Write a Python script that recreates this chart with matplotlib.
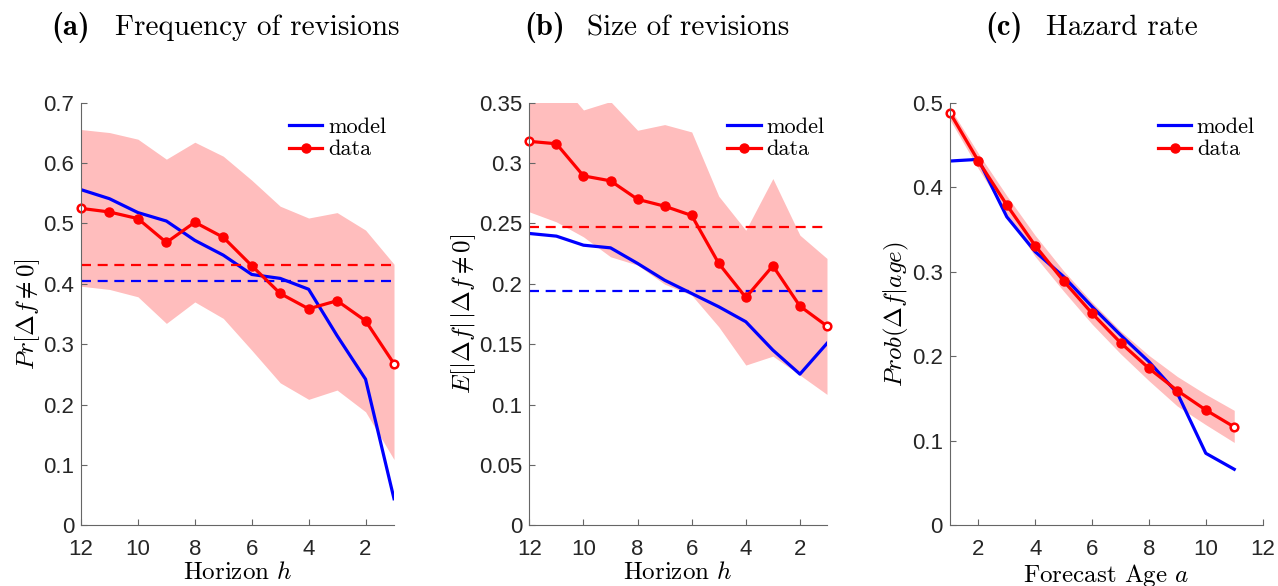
import matplotlib
matplotlib.use("Agg")
import matplotlib.pyplot as plt
from matplotlib.ticker import FuncFormatter

plt.rcParams["font.family"] = ["cmr10"]
plt.rcParams["mathtext.fontset"] = "cm"
plt.rcParams["axes.unicode_minus"] = False

# horizon axis for panels (a) and (b): 12 ... 1
horizon = [12, 11, 10, 9, 8, 7, 6, 5, 4, 3, 2, 1]

# (a) frequency of revisions
freq_model = [0.556, 0.541, 0.518, 0.504, 0.472, 0.4475, 0.4155, 0.409, 0.391, 0.314, 0.242, 0.044]
freq_data = [0.525, 0.519, 0.508, 0.4685, 0.502, 0.477, 0.430, 0.384, 0.3586, 0.372, 0.3387, 0.2676]
freq_hi = [0.6556, 0.6506, 0.6396, 0.6065, 0.6346, 0.6114, 0.5717, 0.5286, 0.509, 0.518, 0.489, 0.4326]
freq_lo = [0.396, 0.3907, 0.3785, 0.3344, 0.370, 0.3427, 0.290, 0.236, 0.2086, 0.224, 0.188, 0.109]
freq_mean_model = 0.405
freq_mean_data = 0.4305

# (b) size of revisions
size_model = [0.2417, 0.2395, 0.232, 0.2298, 0.2169, 0.203, 0.192, 0.181, 0.1686, 0.1451, 0.1252, 0.1507]
size_data = [0.318, 0.316, 0.2894, 0.2853, 0.270, 0.2643, 0.2566, 0.2169, 0.1887, 0.2149, 0.1815, 0.165]
size_hi = [0.362, 0.370, 0.344, 0.351, 0.3272, 0.3319, 0.3258, 0.2726, 0.2444, 0.2872, 0.2403, 0.221]
size_lo = [0.2596, 0.2513, 0.2389, 0.2224, 0.2155, 0.1997, 0.1906, 0.1644, 0.1327, 0.1401, 0.1244, 0.1084]
size_mean_model = 0.1942
size_mean_data = 0.2472

# (c) hazard rate by forecast age
age = [1, 2, 3, 4, 5, 6, 7, 8, 9, 10, 11]
haz_model = [0.431, 0.433, 0.365, 0.3237, 0.2942, 0.2587, 0.2252, 0.1936, 0.1562, 0.0852, 0.0663]
haz_data = [0.4882, 0.431, 0.379, 0.3308, 0.289, 0.2508, 0.2161, 0.1857, 0.1593, 0.1364, 0.1163]
haz_hi = [0.494, 0.440, 0.390, 0.343, 0.301, 0.264, 0.230, 0.201, 0.176, 0.155, 0.136]
haz_lo = [0.480, 0.422, 0.368, 0.318, 0.277, 0.238, 0.203, 0.171, 0.141, 0.119, 0.098]

RED = "#ff0000"
BLUE = "#0000ff"
TICKFONT = "Liberation Sans"
TSIZE = 21
LSIZE = 18


def panel(ax, x, model, data, hi, lo, means=None):
    ax.plot(x, model, color=BLUE, lw=2.3, label="model")
    if means:
        ax.plot([x[0], x[-1]], [means[0]] * 2, color=BLUE, lw=1.6, dashes=(4.5, 3))
    ax.fill_between(x, lo, hi, color=RED, alpha=0.26, lw=0)
    if means:
        ax.plot([x[0], x[-1]], [means[1]] * 2, color=RED, lw=1.6, dashes=(4.5, 3))
    n = len(x)
    ax.plot(x, data, color=RED, lw=2.3, marker="o", ms=6.5,
            markevery=list(range(1, n - 1)), label="data")
    ax.plot([x[0], x[-1]], [data[0], data[-1]], ls="none", marker="o", ms=5.5,
            mfc="white", mec=RED, mew=1.8, clip_on=False)
    for s in ("top", "right"):
        ax.spines[s].set_visible(False)
    for s in ("left", "bottom"):
        ax.spines[s].set_color("#666666")
        ax.spines[s].set_linewidth(0.8)
    ax.tick_params(direction="in", length=4, width=0.8, color="#666666",
                   labelsize=16, labelcolor="#262626", labelfontfamily=TICKFONT)
    ax.tick_params(axis="x", pad=10)
    ax.tick_params(axis="y", pad=5)
    ax.yaxis.set_major_formatter(FuncFormatter(lambda v, p: f"{v:g}"))
    ax.legend(loc="upper left", bbox_to_anchor=(0.665, 0.965), frameon=False,
              fontsize=16, handlelength=1.5, handletextpad=0.25,
              labelspacing=0.12, borderaxespad=0, borderpad=0)


def title(ax, tag, text, x_tag, x_text):
    # bold panel tag + regular caption, like "\textbf{(a)}~~Frequency ..."
    ax.text(x_tag, 1.16, tag, transform=ax.transAxes, ha="right", va="baseline",
            fontsize=TSIZE + 1, family="cmb10")
    ax.text(x_text, 1.16, text, transform=ax.transAxes, ha="left", va="baseline",
            fontsize=TSIZE)


fig = plt.figure(figsize=(12.78, 5.86), dpi=100)
bottom, height = 0.1036, 0.7211
ax1 = fig.add_axes([0.0634, bottom, 0.2449, height])
ax2 = fig.add_axes([0.4142, bottom, 0.2329, height])
ax3 = fig.add_axes([0.7433, bottom, 0.2447, height])

panel(ax1, horizon, freq_model, freq_data, freq_hi, freq_lo, (freq_mean_model, freq_mean_data))
ax1.set_xlim(12, 1)
ax1.set_ylim(0, 0.7)
ax1.set_xticks([12, 10, 8, 6, 4, 2])
ax1.set_yticks([0, 0.1, 0.2, 0.3, 0.4, 0.5, 0.6, 0.7])
ax1.set_xlabel(r"Horizon $h$", fontsize=LSIZE, labelpad=1)
ax1.set_ylabel(r"$Pr[\Delta f \neq 0]$", fontsize=LSIZE, labelpad=1)
title(ax1, "(a)", "Frequency of revisions", 0.029, 0.109)

panel(ax2, horizon, size_model, size_data, size_hi, size_lo, (size_mean_model, size_mean_data))
ax2.set_xlim(12, 1)
ax2.set_ylim(0, 0.35)
ax2.set_xticks([12, 10, 8, 6, 4, 2])
ax2.set_yticks([0, 0.05, 0.1, 0.15, 0.2, 0.25, 0.3, 0.35])
ax2.set_xlabel(r"Horizon $h$", fontsize=LSIZE, labelpad=1)
ax2.set_ylabel(r"$E[|\Delta f|\,|\Delta f \neq 0]$", fontsize=LSIZE, labelpad=1)
title(ax2, "(b)", "Size of revisions", 0.120, 0.194)

panel(ax3, age, haz_model, haz_data, haz_hi, haz_lo)
ax3.set_xlim(1, 12)
ax3.set_ylim(0, 0.5)
ax3.set_xticks([2, 4, 6, 8, 10, 12])
ax3.set_yticks([0, 0.1, 0.2, 0.3, 0.4, 0.5])
ax3.set_xlabel(r"Forecast Age $a$", fontsize=LSIZE, labelpad=1)
ax3.set_ylabel(r"$Prob(\Delta f|age)$", fontsize=LSIZE, labelpad=1)
title(ax3, "(c)", "Hazard rate", 0.233, 0.307)

fig.savefig("out.png", dpi=100)
